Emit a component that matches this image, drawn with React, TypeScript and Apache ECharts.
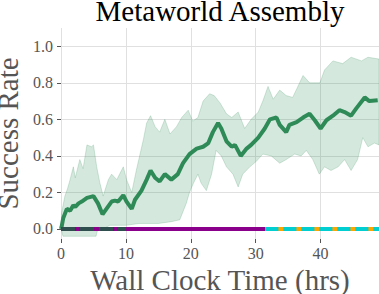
import React, { useEffect, useRef } from "react";
import * as echarts from "echarts";

const xTicks = [0, 10, 20, 30, 40];
const yTicks = [0, 0.2, 0.4, 0.6, 0.8, 1.0];

const meanCurve: [number, number][] = [
  [0, 0.0], [0.1, 0.013], [0.35, 0.06], [0.9, 0.11], [1.4, 0.10], [1.9, 0.13], [2.2, 0.12],
  [2.7, 0.14], [3.2, 0.15], [4.0, 0.17], [5.0, 0.18], [5.7, 0.14], [6.4, 0.08], [7.0, 0.11],
  [7.8, 0.15], [8.3, 0.155], [8.8, 0.15], [9.6, 0.185], [10.1, 0.15], [10.9, 0.11], [11.4, 0.16],
  [12.4, 0.21], [13.2, 0.27], [13.8, 0.32], [14.5, 0.28], [15.2, 0.26], [16.0, 0.30], [17.0, 0.27],
  [18.0, 0.30], [18.8, 0.36], [19.8, 0.41], [20.9, 0.44], [21.9, 0.45], [22.7, 0.47], [23.4, 0.53],
  [24.2, 0.58], [24.7, 0.55], [25.5, 0.48], [26.3, 0.45], [26.8, 0.46], [27.7, 0.40], [28.6, 0.44],
  [29.3, 0.46], [30.4, 0.50], [31.4, 0.55], [32.2, 0.60], [33.2, 0.61], [33.7, 0.57], [34.7, 0.53],
  [35.2, 0.57], [36.3, 0.585], [37.3, 0.61], [38.3, 0.63], [39.1, 0.595], [40.0, 0.55], [40.9, 0.595],
  [41.9, 0.62], [42.9, 0.65], [43.7, 0.64], [44.7, 0.62], [45.5, 0.66], [46.8, 0.72], [47.5, 0.70],
  [48.8, 0.705],
];

const upperBand: [number, number][] = [
  [0, 0.05], [0.1, 0.09], [0.6, 0.18], [1.0, 0.22], [1.4, 0.27], [1.9, 0.34], [2.2, 0.28],
  [2.9, 0.38], [3.4, 0.33], [4.0, 0.46], [4.7, 0.45], [5.0, 0.46], [5.5, 0.34], [6.0, 0.25],
  [6.5, 0.18], [7.3, 0.27], [7.8, 0.30], [8.6, 0.27], [9.6, 0.34], [10.1, 0.27], [10.9, 0.20],
  [11.6, 0.32], [12.7, 0.49], [13.2, 0.58], [13.8, 0.62], [14.5, 0.56], [15.2, 0.53], [16.0, 0.60],
  [16.8, 0.52], [17.8, 0.56], [18.6, 0.61], [19.6, 0.65], [20.3, 0.59], [21.1, 0.61], [21.9, 0.70],
  [22.9, 0.74], [23.6, 0.73], [24.5, 0.69], [25.5, 0.63], [26.3, 0.61], [27.3, 0.64], [28.3, 0.55],
  [29.3, 0.60], [30.4, 0.64], [31.1, 0.70], [31.9, 0.78], [32.7, 0.71], [33.7, 0.76], [34.7, 0.73],
  [35.7, 0.72], [36.5, 0.78], [37.3, 0.84], [38.3, 0.80], [39.9, 0.80], [40.6, 0.87], [41.9, 0.92],
  [43.4, 0.905], [44.7, 0.94], [46.3, 0.92], [47.3, 0.94], [49, 0.93],
];

const lowerBand: [number, number][] = [
  [0, 0.0], [0.3, -0.04], [5.4, -0.04], [5.6, -0.01], [6.5, 0.0], [7.5, 0.02], [10, 0.02],
  [12, 0.03], [15, 0.03], [17, 0.04], [18.3, 0.05], [19.3, 0.14], [19.8, 0.20], [20.4, 0.25],
  [21.1, 0.30], [21.6, 0.25], [22.4, 0.21], [23.2, 0.30], [23.9, 0.43], [24.7, 0.40], [25.5, 0.34],
  [26.5, 0.30], [27.3, 0.23], [28.0, 0.30], [29.1, 0.34], [30.1, 0.37], [31.1, 0.41], [32.4, 0.40],
  [33.7, 0.36], [34.7, 0.38], [36, 0.41], [37, 0.40], [37.8, 0.43], [38.8, 0.38], [39.8, 0.30],
  [40.6, 0.34], [41.6, 0.32], [42.7, 0.34], [43.7, 0.38], [44.7, 0.32], [45.7, 0.38], [46.5, 0.50],
  [47.3, 0.45], [48.3, 0.47], [49, 0.46],
];

const purpleRun: [number, number][] = [[0, 0], [31.5, 0]];
const slateRun: [number, number][] = [[0, 0], [10, 0]];
const orangeRun: [number, number][] = [[31.5, 0], [49, 0]];
const cyanRun: [number, number][] = [[31.5, 0], [49, 0]];

const FONT = "'Liberation Serif', 'Times New Roman', serif";
const TICK_COLOR = "#555555";

export default function App() {
  const ref = useRef<HTMLDivElement>(null);
  useEffect(() => {
    if (!ref.current) return;
    const chart = echarts.init(ref.current, undefined, { renderer: "svg" });
    const option: any = {
      animation: false,
      backgroundColor: "#ffffff",
      textStyle: { fontFamily: FONT },
      graphic: [
        {
          type: "text",
          x: 220,
          y: -4,
          style: {
            text: "Metaworld Assembly",
            fontFamily: FONT,
            fontSize: 29,
            fill: "#000000",
            align: "center",
            verticalAlign: "top",
          },
        },
      ],
      grid: { left: 61, right: 0, top: 28, bottom: 55, outerBoundsMode: "none", containLabel: false },
      xAxis: {
        type: "value",
        min: 0,
        max: 49,
        name: "Wall Clock Time (hrs)",
        nameLocation: "middle",
        nameGap: 22,
        nameTextStyle: { fontFamily: FONT, fontSize: 29, color: TICK_COLOR },
        axisLine: { show: false, onZero: false },
        axisTick: { show: true, length: 4, customValues: xTicks, lineStyle: { color: TICK_COLOR } },
        axisLabel: {
          customValues: xTicks,
          margin: 6,
          fontFamily: FONT,
          fontSize: 16,
          color: TICK_COLOR,
        },
        splitLine: { show: true, lineStyle: { color: "#e0e0e0", width: 1 } },
      },
      yAxis: {
        type: "value",
        min: -0.055,
        max: 1.1,
        name: "Success Rate",
        nameLocation: "middle",
        nameGap: 32,
        nameTextStyle: { fontFamily: FONT, fontSize: 29, color: TICK_COLOR },
        axisLine: { show: false },
        axisTick: { show: true, length: 4, customValues: yTicks, lineStyle: { color: TICK_COLOR } },
        axisLabel: {
          customValues: yTicks,
          margin: 8,
          fontFamily: FONT,
          fontSize: 16,
          color: TICK_COLOR,
          formatter: (v: number) => v.toFixed(1),
        },
        splitLine: { show: true, lineStyle: { color: "#e0e0e0", width: 1 } },
      },
      series: [
        {
          type: "custom",
          data: [[0, 0]],
          clip: true,
          z: 1,
          renderItem: (params: any, api: any) => {
            const pts: number[][] = [];
            upperBand.forEach((p) => pts.push(api.coord(p)));
            for (let i = lowerBand.length - 1; i >= 0; i--) pts.push(api.coord(lowerBand[i]));
            return {
              type: "polygon",
              shape: { points: pts },
              style: {
                fill: "rgba(46,139,87,0.2)",
                stroke: "rgba(46,139,87,0.25)",
                lineWidth: 0.8,
              },
            };
          },
        },
        {
          type: "line",
          data: meanCurve,
          showSymbol: false,
          z: 3,
          lineStyle: { color: "#2e8b57", width: 4 },
        },
        {
          type: "line",
          data: purpleRun,
          showSymbol: false,
          z: 4,
          lineStyle: { color: "#8b008b", width: 4, cap: "butt" },
        },
        {
          type: "line",
          data: slateRun,
          showSymbol: false,
          z: 5,
          lineStyle: { color: "#2f4f4f", width: 4, type: [14, 5], cap: "butt" },
        },
        {
          type: "line",
          data: orangeRun,
          showSymbol: false,
          z: 4,
          lineStyle: { color: "#ffa500", width: 4, cap: "butt" },
        },
        {
          type: "line",
          data: cyanRun,
          showSymbol: false,
          z: 5,
          lineStyle: { color: "#00ced1", width: 4, type: [13, 5], cap: "butt" },
        },
      ],
    };
    chart.setOption(option);
    return () => chart.dispose();
  }, []);
  return <div ref={ref} style={{ width: 379, height: 294, position: "absolute", left: 0, top: 0 }} />;
}
